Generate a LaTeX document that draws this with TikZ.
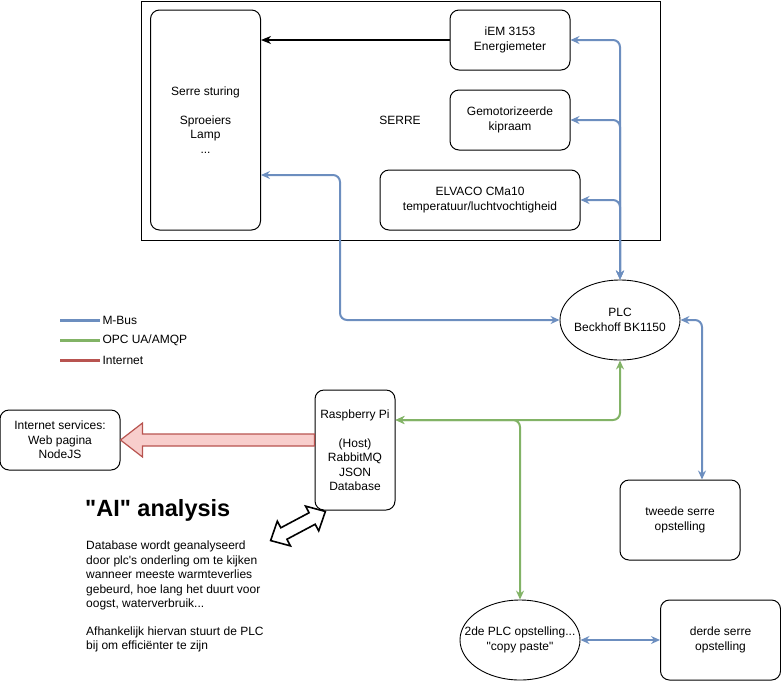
\documentclass[tikz,border=0pt]{standalone}
\usepackage{fontspec}
\setmainfont{Liberation Sans}
\usetikzlibrary{arrows.meta,shapes.geometric}

\definecolor{mbuscolor}{HTML}{6C8EBF}
\definecolor{opccolor}{HTML}{82B366}
\definecolor{inetcolor}{HTML}{B85450}
\definecolor{inetfill}{HTML}{F8CECC}

\tikzset{
  every node/.style={font=\fontsize{12}{14.5}\selectfont, align=center, inner sep=0pt},
  every label/.style={font=\fontsize{12}{14.5}\selectfont, align=center, inner sep=0pt},
  rbox/.style={draw, line width=1pt, rounded corners=9pt},
  oval/.style={draw, ellipse, line width=0.9pt, minimum width=120, minimum height=80},
  mbus/.style={draw=mbuscolor, line width=2pt, rounded corners=7pt,
    {Stealth[length=9pt,width=8pt,inset=3pt]}-{Stealth[length=9pt,width=8pt,inset=3pt]}},
  opc/.style={mbus, draw=opccolor},
  legline/.style={line width=3pt},
}

\begin{document}
\begin{tikzpicture}[x=1pt,y=-1pt]
\useasboundingbox (0,0) rectangle (781,681);
\draw[line width=1pt] (141,1) rectangle (660,240);
\node at (400,120){SERRE};
% boxes in the serre
\node[rbox, minimum width=110, minimum height=220] (sturing) at (205.5,120)
  {Serre sturing\\[14.5pt]Sproeiers\\Lamp\\...};
\node[rbox, minimum width=120, minimum height=60] (iem) at (510,40)
  {iEM 3153\\Energiemeter};
\node[rbox, minimum width=120, minimum height=60] (kipraam) at (510,120)
  {Gemotorizeerde\\kipraam};
\node[rbox, minimum width=200, minimum height=60] (elvaco) at (480,200)
  {ELVACO CMa10\\temperatuur/luchtvochtigheid};
% plc's
\node[oval, label={center:PLC\\Beckhoff BK1150}] (plc) at (620,320){};
\node[oval, label={center:2de PLC opstelling...\\\textquotedbl copy paste\textquotedbl}] (plctwee) at (520,640){};
\node[rbox, minimum width=120, minimum height=80] (tweede) at (680,520)
  {tweede serre\\opstelling};
\node[rbox, minimum width=120, minimum height=80] (derde) at (720.5,640)
  {derde serre\\opstelling};
\node[rbox, minimum width=80, minimum height=120] (rpi) at (355,450)
  {Raspberry Pi\\[14.5pt](Host)\\RabbitMQ\\JSON\\Database};
\node[rbox, minimum width=120, minimum height=60] (inet) at (60,440)
  {Internet services:\\Web pagina\\NodeJS};
% legend
\draw[legline, mbuscolor] (60,320) -- (100,320) node[anchor=west, xshift=1pt, text=black] (lgmbus){M-Bus};
\draw[legline, opccolor] (60,340) -- (100,340) node[anchor=west, xshift=1pt, text=black] (lgopc){OPC UA/AMQP};
\draw[legline, inetcolor] (60,360) -- (100,360) node[anchor=west, xshift=1pt, text=black] (lginet){Internet};
% connectors
\draw[line width=1.2pt, -{Stealth[length=10pt,width=8pt,inset=3pt]}] (iem.west) -- (sturing.east |- iem.west);
\draw[mbus] (plc.north) |- (iem.east);
\draw[mbus] (plc.north) |- (kipraam.east);
\draw[mbus] (plc.north) |- (elvaco.east);
\draw[mbus] (plc.west) -| (340,175) -- ([yshift=-55pt]sturing.east);
\draw[mbus] (plc.east) -| ([xshift=22pt]tweede.north);
\draw[mbus] (plctwee.east) -- (derde.west);
\draw[opc] (plc.south) |- ([yshift=30pt]rpi.east);
\draw[opc] ([yshift=30pt]rpi.east) -| (plctwee.north);
% internet arrow
\coordinate (inetstart) at (rpi.west |- inet.east);
\draw[draw=inetcolor, fill=inetfill, line width=1.2pt]
  ([yshift=6pt]inetstart) -- ([shift={(22pt,6pt)}]inet.east) -- ([shift={(22pt,17pt)}]inet.east)
  -- (inet.east) -- ([shift={(22pt,-17pt)}]inet.east) -- ([shift={(22pt,-6pt)}]inet.east)
  -- ([yshift=-6pt]inetstart) -- cycle;
% "AI" analysis
\begin{scope}[shift={(298,526)}, rotate=28]
\draw[line width=1.6pt, fill=white, line join=miter]
  (-31,0) -- (-16,14) -- (-16,6.5) -- (16,6.5) -- (16,14) -- (31,0)
  -- (16,-14) -- (16,-6.5) -- (-16,-6.5) -- (-16,-14) -- cycle;
\end{scope}
\node[anchor=west, font=\fontsize{23.5}{28}\bfseries] (aititle) at (85,510){\textquotedbl AI\textquotedbl{} analysis};
\node[anchor=north west, align=left] (aitext) at (86,541)
  {Database wordt geanalyseerd\\door plc\textquotesingle s onderling om te kijken\\wanneer meeste warmteverlies\\
   gebeurd, hoe lang het duurt voor\\oogst, waterverbruik...\\[13pt]
   Afhankelijk hiervan stuurt de PLC\\bij om efficiënter te zijn};
\end{tikzpicture}
\end{document}
